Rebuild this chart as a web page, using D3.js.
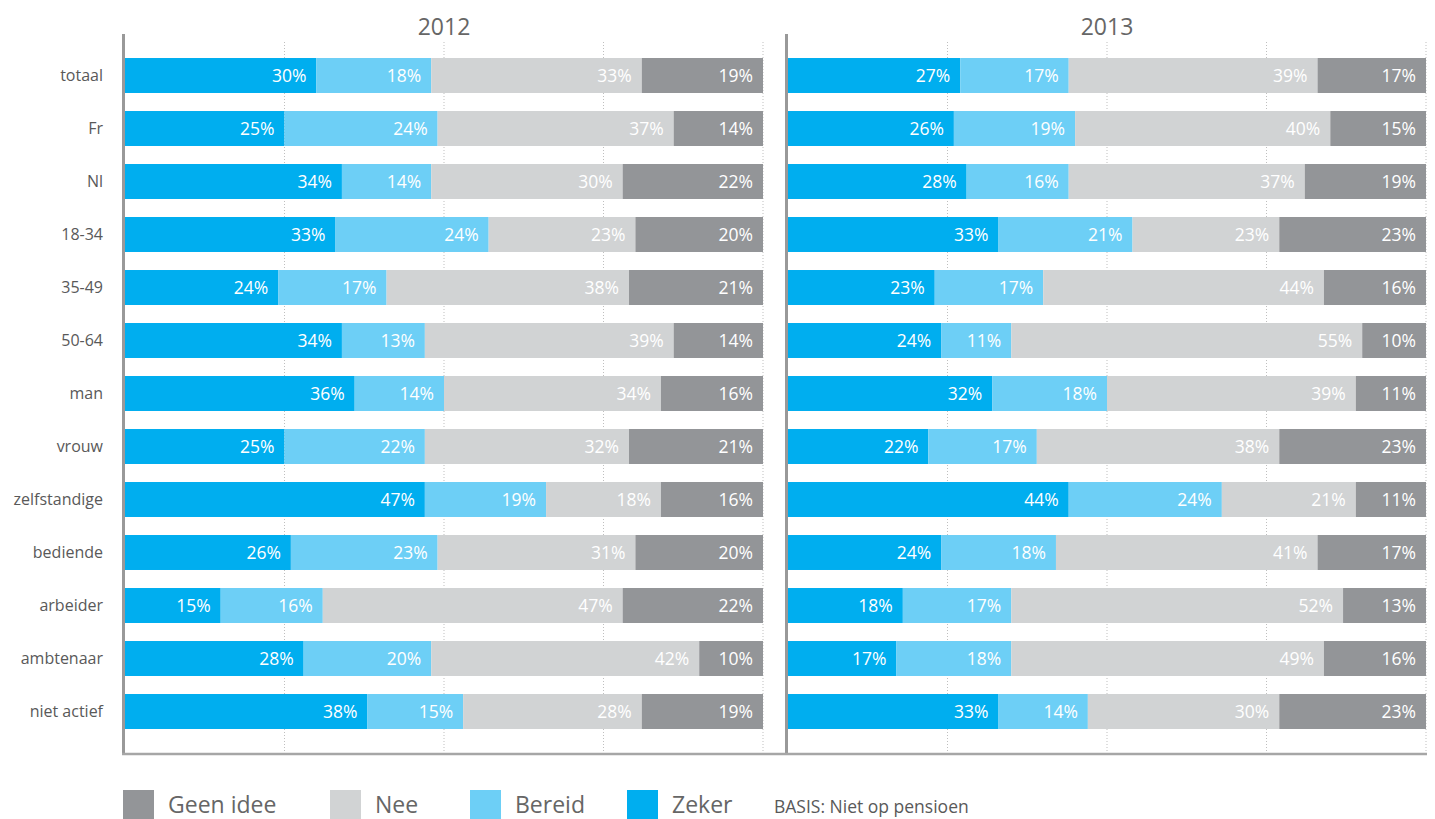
<!DOCTYPE html>
<html>
<head>
<meta charset="utf-8">
<script src="https://cdn.jsdelivr.net/npm/d3@7"></script>
<style>
  body { margin: 0; background: #fff; }
  svg text { font-family: "Open Sans", sans-serif; }
</style>
</head>
<body>
<div id="chart"></div>
<script>
// rows of the chart
var categories = ["totaal", "Fr", "Nl", "18-34", "35-49", "50-64", "man", "vrouw",
                  "zelfstandige", "bediende", "arbeider", "ambtenaar", "niet actief"];
var seriesNames = ["Zeker", "Bereid", "Nee", "Geen idee"];
var years = ["2012", "2013"];

var zeker2012  = [30, 25, 34, 33, 24, 34, 36, 25, 47, 26, 15, 28, 38];
var bereid2012 = [18, 24, 14, 24, 17, 13, 14, 22, 19, 23, 16, 20, 15];
var nee2012    = [33, 37, 30, 23, 38, 39, 34, 32, 18, 31, 47, 42, 28];
var geen2012   = [19, 14, 22, 20, 21, 14, 16, 21, 16, 20, 22, 10, 19];

var zeker2013  = [27, 26, 28, 33, 23, 24, 32, 22, 44, 24, 18, 17, 33];
var bereid2013 = [17, 19, 16, 21, 17, 11, 18, 17, 24, 18, 17, 18, 14];
var nee2013    = [39, 40, 37, 23, 44, 55, 39, 38, 21, 41, 52, 49, 30];
var geen2013   = [17, 15, 19, 23, 16, 10, 11, 23, 11, 17, 13, 16, 23];

var gridTicks = [25, 50, 75, 100];
var legendOrder = ["Geen idee", "Nee", "Bereid", "Zeker"];
var note = "BASIS: Niet op pensioen";

var colors = {
  "Zeker": "#00aeef",
  "Bereid": "#6dcff6",
  "Nee": "#d1d3d4",
  "Geen idee": "#939598"
};

function buildRows(z, b, n, g) {
  return categories.map(function(c, i) {
    return { cat: c, "Zeker": z[i], "Bereid": b[i], "Nee": n[i], "Geen idee": g[i] };
  });
}

var panels = [
  { year: years[0], rows: buildRows(zeker2012, bereid2012, nee2012, geen2012), x0: 125 },
  { year: years[1], rows: buildRows(zeker2013, bereid2013, nee2013, geen2013), x0: 788 }
];

var W = 1435, H = 819;
var panelW = 638;

var svg = d3.select("#chart").append("svg")
  .attr("width", W)
  .attr("height", H);

var y = d3.scaleBand()
  .domain(categories)
  .range([49, 738])
  .paddingInner(0.34)
  .paddingOuter(0.17);

var stack = d3.stack().keys(seriesNames);

// category labels
svg.append("g").selectAll("text")
  .data(categories)
  .enter()
  .append("text")
  .attr("x", 103)
  .attr("y", function(d) { return y(d) + y.bandwidth() / 2; })
  .attr("dy", "0.36em")
  .attr("text-anchor", "end")
  .attr("fill", "#595959")
  .style("font-size", "16px")
  .text(function(d) { return d; });

panels.forEach(function(p) {
  var x = d3.scaleLinear().domain([0, 100]).range([p.x0, p.x0 + panelW]);
  var g = svg.append("g");

  // dotted grid
  g.selectAll("line.grid")
    .data(gridTicks)
    .enter()
    .append("line")
    .attr("class", "grid")
    .attr("x1", function(d) { return x(d); })
    .attr("x2", function(d) { return x(d); })
    .attr("y1", 42)
    .attr("y2", 753)
    .attr("stroke", "#bfbfbf")
    .attr("stroke-width", 1)
    .attr("stroke-dasharray", "1,2");

  var layers = stack(p.rows);

  var layer = g.selectAll("g.layer")
    .data(layers)
    .enter()
    .append("g")
    .attr("class", "layer")
    .attr("fill", function(d) { return colors[d.key]; });

  layer.selectAll("rect")
    .data(function(d) { return d; })
    .enter()
    .append("rect")
    .attr("x", function(d) { return x(d[0]); })
    .attr("y", function(d) { return y(d.data.cat); })
    .attr("width", function(d) { return x(d[1]) - x(d[0]); })
    .attr("height", y.bandwidth());

  layer.selectAll("text")
    .data(function(d) { return d; })
    .enter()
    .append("text")
    .attr("x", function(d) { return x(d[1]) - 10; })
    .attr("y", function(d) { return y(d.data.cat) + y.bandwidth() / 2; })
    .attr("dy", "0.36em")
    .attr("text-anchor", "end")
    .attr("fill", "#ffffff")
    .style("font-size", "17.5px")
    .text(function(d) { return (d[1] - d[0]) + "%"; });

  // axis line at zero
  g.append("line")
    .attr("x1", x(0) - 1.5)
    .attr("x2", x(0) - 1.5)
    .attr("y1", 34)
    .attr("y2", 755)
    .attr("stroke", "#999999")
    .attr("stroke-width", 3);

  g.append("text")
    .attr("x", x(50))
    .attr("y", 35)
    .attr("text-anchor", "middle")
    .attr("fill", "#666666")
    .style("font-size", "23px")
    .text(p.year);
});

// bottom baseline
svg.append("line")
  .attr("x1", 122)
  .attr("x2", 1427)
  .attr("y1", 754)
  .attr("y2", 754)
  .attr("stroke", "#a6a6a6")
  .attr("stroke-width", 2.5);

// legend
var legendX = [123, 330, 470, 627];
var legend = svg.append("g").selectAll("g")
  .data(legendOrder)
  .enter()
  .append("g")
  .attr("transform", function(d, i) { return "translate(" + legendX[i] + ",790)"; });

legend.append("rect")
  .attr("width", 31)
  .attr("height", 29)
  .attr("fill", function(d) { return colors[d]; });

legend.append("text")
  .attr("x", 45)
  .attr("y", 23)
  .attr("fill", "#666666")
  .style("font-size", "23px")
  .text(function(d) { return d; });

svg.append("text")
  .attr("x", 774)
  .attr("y", 813)
  .attr("fill", "#595959")
  .style("font-size", "17.5px")
  .text(note);
</script>
</body>
</html>
